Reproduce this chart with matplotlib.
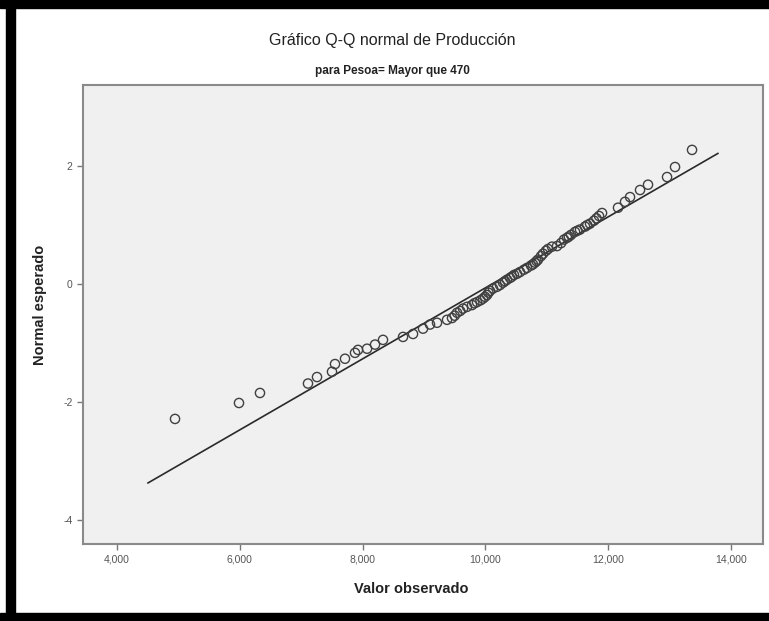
import matplotlib
matplotlib.use("Agg")
import matplotlib.pyplot as plt
from matplotlib.patches import Rectangle

plt.rcParams['font.family'] = ['Liberation Sans', 'DejaVu Sans']

# observed production values (sorted) and their expected normal scores
observed = [4945, 5987, 6329, 7111, 7258, 7502, 7551, 7714, 7877, 7926,
            8073, 8203, 8333, 8659, 8822, 8985, 9099, 9213, 9376, 9457,
            9500, 9539, 9590, 9636, 9702, 9783, 9820, 9864, 9920, 9962,
            9995, 10027, 10050, 10076, 10125, 10190, 10239, 10288, 10320, 10353,
            10402, 10430, 10467, 10515, 10565, 10630, 10679, 10744, 10775, 10809,
            10835, 10858, 10907, 10940, 10988, 11021, 11086, 11168, 11233, 11282,
            11331, 11360, 11396, 11461, 11500, 11542, 11624, 11660, 11705, 11770,
            11810, 11852, 11901, 12161, 12275, 12357, 12520, 12650, 12960, 13090,
            13367]
expected = [-2.29, -2.02, -1.85, -1.69, -1.58, -1.49, -1.36, -1.27, -1.17, -1.12,
            -1.10, -1.03, -0.95, -0.90, -0.85, -0.76, -0.69, -0.66, -0.61, -0.58,
            -0.54, -0.49, -0.46, -0.42, -0.39, -0.36, -0.33, -0.31, -0.28, -0.25,
            -0.22, -0.19, -0.15, -0.12, -0.08, -0.05, -0.02, 0.02, 0.045, 0.07,
            0.10, 0.12, 0.15, 0.17, 0.20, 0.24, 0.27, 0.31, 0.33, 0.36,
            0.385, 0.41, 0.47, 0.51, 0.56, 0.59, 0.63, 0.64, 0.69, 0.75,
            0.78, 0.80, 0.83, 0.88, 0.90, 0.92, 0.97, 0.995, 1.02, 1.07,
            1.11, 1.15, 1.20, 1.29, 1.39, 1.47, 1.59, 1.68, 1.81, 1.98,
            2.27]

# reference line endpoints (normal with mean ~10114, sd ~1662)
line_x = [4505, 13788]
line_y = [-3.375, 2.21]

x_ticks = [4000, 6000, 8000, 10000, 12000, 14000]
x_labels = ["4,000", "6,000", "8,000", "10,000", "12,000", "14,000"]
y_ticks = [-4, -2, 0, 2]
y_labels = ["-4", "-2", "0", "2"]

fig = plt.figure(figsize=(7.69, 6.21), dpi=100, facecolor='white')

# black frame around the output
fig.patches.append(Rectangle((0, 1 - 8 / 621), 1, 8 / 621, transform=fig.transFigure,
                             color='black', zorder=10))
fig.patches.append(Rectangle((0, 0), 1, 8 / 621, transform=fig.transFigure,
                             color='black', zorder=10))
fig.patches.append(Rectangle((6 / 769, 0), 9 / 769, 1, transform=fig.transFigure,
                             color='black', zorder=10))

ax = fig.add_axes([83 / 769, 1 - 544 / 621, 680 / 769, 459 / 621])
ax.set_facecolor('#f0f0f0')

ax.plot(line_x, line_y, color='#2a2a2a', linewidth=1.2, zorder=2)
ax.scatter(observed, expected, s=44, facecolors='none', edgecolors='#404040',
           linewidths=1.0, zorder=3)

ax.set_xlim(3446, 14523)
ax.set_ylim(-4.41, 3.37)
ax.set_xticks(x_ticks)
ax.set_xticklabels(x_labels)
ax.set_yticks(y_ticks)
ax.set_yticklabels(y_labels)
ax.tick_params(direction='out', length=4, width=1, colors='#777777',
               labelcolor='#555555', labelsize=7.5)

for side in ['top', 'right', 'bottom', 'left']:
    ax.spines[side].set_color('#8a8a8a')
    ax.spines[side].set_linewidth(1.5)

fig.text(392 / 769, 1 - 40 / 621, "Gráfico Q-Q normal de Producción",
         ha='center', va='center', fontsize=11.5, color='#222222')
fig.text(392 / 769, 1 - 71 / 621, "para Pesoa= Mayor que 470",
         ha='center', va='center', fontsize=8.5, fontweight='bold', color='#222222')
fig.text(411 / 769, 1 - 589 / 621, "Valor observado",
         ha='center', va='center', fontsize=10.5, fontweight='bold', color='#222222')
fig.text(40 / 769, 1 - 305 / 621, "Normal esperado", rotation=90,
         ha='center', va='center', fontsize=10.5, fontweight='bold', color='#222222')

fig.savefig("out.png", dpi=100, facecolor='white')
